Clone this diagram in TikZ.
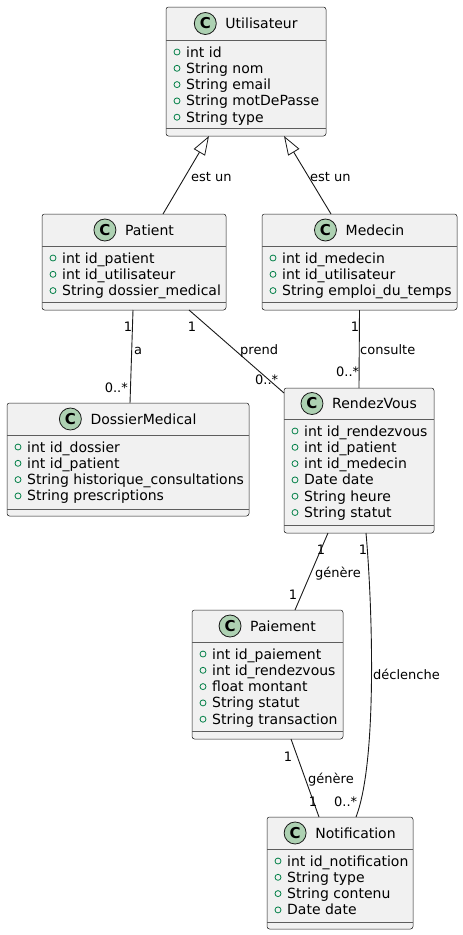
\documentclass[tikz,border=0pt]{standalone}
\usepackage{fontspec}
\setmainfont{DejaVu Sans}
\usetikzlibrary{arrows.meta,calc}
\definecolor{boxfill}{HTML}{F1F1F1}
\definecolor{ink}{HTML}{181818}
\definecolor{badge}{HTML}{ADD1B2}
\definecolor{visgreen}{HTML}{038048}
\tikzset{
  clsbox/.style={draw=ink, line width=0.5pt, fill=boxfill, rounded corners=2.5pt, inner sep=0pt, outer sep=0pt, rectangle},
  sepline/.style={draw=ink!70, line width=0.5pt},
  titletext/.style={inner sep=0pt, font=\fontsize{14}{16}\selectfont, text=black},
  cbadge/.style={circle, draw=ink, line width=0.8pt, fill=badge, minimum size=22pt, inner sep=0pt, font=\fontsize{15}{15}\selectfont\bfseries},
  attrtext/.style={inner sep=0pt, font=\fontsize{14}{16}\selectfont, text=black},
  vis/.style={draw=visgreen, line width=0.8pt},
  conn/.style={draw=ink, line width=0.9pt},
  lbl/.style={inner sep=0pt, font=\fontsize{13}{15}\selectfont, text=black},
  inherit/.style={conn, -{Triangle[length=19pt, width=13pt, fill=white, line width=0.8pt]}},
}
% name, left, top, right, header sep, bottom sep, bottom, title, attributes
\newcommand{\umlclass}[9]{%
  \node[clsbox, minimum width={(#4-#2)*1pt}, minimum height={(#7-#3)*1pt}, anchor=north west] (#1) at (#2,#3) {};
  \draw[sepline] (#2,#5) -- (#4,#5);
  \draw[sepline] (#2,#6) -- (#4,#6);
  \node[titletext, anchor=base] (#1-t) at ({(#2+#4)/2+15.5},{(#3+#5)/2+5}) {#8};
  \node[cbadge] (#1-c) at ([xshift=-20pt]#1-t.west |- 0,{(#3+#5)/2}) {C};
  \foreach \a [count=\i] in {#9} {
    \node[attrtext, anchor=base west] (#1-a\i) at (#2+20, {#5+12+16.3*(\i-1)+5}) {\a};
    \draw[vis] (#2+11, {#5+12+16.3*(\i-1)}) circle (3);
  }
}
\begin{document}
\begin{tikzpicture}[x=1pt, y=-1pt]
\useasboundingbox (0,0) rectangle (463,935);

\umlclass{util}{166}{7}{326}{40}{128}{136}{Utilisateur}{int id, String nom, String email, String motDePasse, String type}
\umlclass{pat}{42}{214}{226}{246}{302}{310}{Patient}{int id\_patient, int id\_utilisateur, String dossier\_medical}
\umlclass{med}{262}{214}{457}{246}{302}{310}{Medecin}{int id\_medecin, int id\_utilisateur, String emploi\_du\_temps}
\umlclass{dos}{7}{403}{249}{435}{509}{516}{DossierMedical}{int id\_dossier, int id\_patient, String historique\_consultations, String prescriptions}
\umlclass{rdv}{284}{388}{434}{419}{525}{533}{RendezVous}{int id\_rendezvous, int id\_patient, int id\_medecin, Date date, String heure, String statut}
\umlclass{pai}{192}{610}{343}{642}{731}{739}{Paiement}{int id\_paiement, int id\_rendezvous, float montant, String statut, String transaction}
\umlclass{notif}{267}{817}{413}{849}{922}{929}{Notification}{int id\_notification, String type, String contenu, Date date}

% inheritance
\draw[inherit] ([xshift=29pt]pat.north) -- ([xshift=-37pt]util.south);
\draw[inherit] ([xshift=-28.5pt]med.north) -- ([xshift=38pt]util.south);
% associations
\draw[conn] ([xshift=-1pt]pat.south) -- ([xshift=2pt]dos.north);
\draw[conn] ([xshift=55pt]pat.south) -- ([yshift=-5pt]rdv.north west);
\draw[conn] (med.south) -- (rdv.north);
\draw[conn] ([xshift=-31pt]rdv.south) -- ([xshift=27.5pt]pai.north);
\draw[conn] ([xshift=7pt]rdv.south) .. controls +(6,67) and +(22,-57) .. ([xshift=16pt]notif.north);
\draw[conn] ([xshift=23.5pt]pai.south) -- ([xshift=-21pt]notif.north);

% labels
\node[lbl, anchor=base west] (l1) at (191,181) {est un};
\node[lbl, anchor=base west] (l2) at (310,181) {est un};
\node[lbl, anchor=base] (l3) at (128,331) {1};
\node[lbl, anchor=base west] (l4) at (134,354) {a};
\node[lbl, anchor=base east] (l5) at (128,392) {0..*};
\node[lbl, anchor=base] (l6) at (192,331) {1};
\node[lbl, anchor=base west] (l7) at (240,354) {prend};
\node[lbl, anchor=base west] (l8) at (255,384) {0..*};
\node[lbl, anchor=base] (l9) at (355,331) {1};
\node[lbl, anchor=base west] (l10) at (360,354) {consulte};
\node[lbl, anchor=base west] (l11) at (336,376) {0..*};
\node[lbl, anchor=base] (l12) at (321,554) {1};
\node[lbl, anchor=base west] (l13) at (315,577) {génère};
\node[lbl, anchor=base] (l14) at (293,599) {1};
\node[lbl, anchor=base] (l15) at (363,554) {1};
\node[lbl, anchor=base west] (l16) at (373,679) {déclenche};
\node[lbl, anchor=base] (l17) at (288,761) {1};
\node[lbl, anchor=base west] (l18) at (308,783) {génère};
\node[lbl, anchor=base] (l19) at (313,806) {1};
\node[lbl, anchor=base west] (l20) at (334,806) {0..*};
\end{tikzpicture}
\end{document}
